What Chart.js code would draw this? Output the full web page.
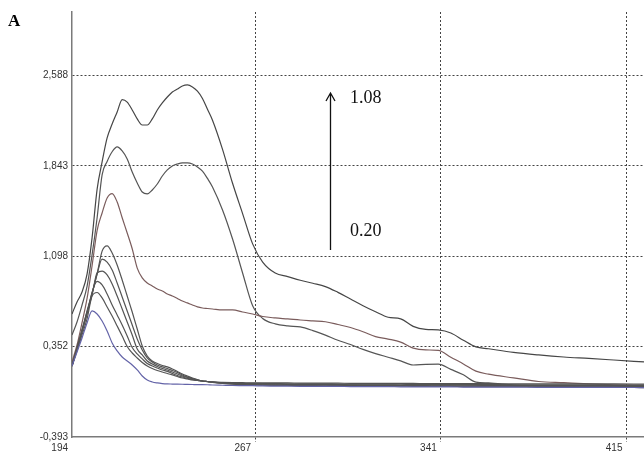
<!DOCTYPE html>
<html>
<head>
<meta charset="utf-8">
<script src="https://cdn.jsdelivr.net/npm/chart.js@4.4.1/dist/chart.umd.min.js"></script>
<style>
  html, body { margin: 0; padding: 0; background: #fff; }
</style>
</head>
<body>
<canvas id="chart" width="644" height="453"></canvas>
<script>
// Wavelength grid (nm) shared by all spectra
const wavelengths = [194,196,198,200,202,204,206,208,210,212,214,216,218,220,222,224,226,228,230,232,234,236,238,240,242,244,246,248,250,
  254,258,262,266,270,275,280,285,290,295,300,305,310,315,320,325,330,335,340,345,350,355,360,370,380,390,400,410,422];

// Concentration of each spectrum (lowest to highest)
const concentrations = ["0.20","0.31","0.42","0.53","0.64","0.75","0.86","0.97","1.08"];

// Absorbance values
const abs020 = [0.193,0.308,0.424,0.548,0.647,0.622,0.564,0.482,0.383,0.317,0.267,0.234,0.201,0.160,0.110,0.077,0.061,0.053,0.048,0.045,0.044,0.043,0.042,0.041,0.040,0.039,0.039,
  0.038,0.036,0.034,0.032,0.031,0.030,0.028,0.027,0.026,0.025,0.025,0.024,0.024,0.023,0.023,0.022,0.022,0.021,0.021,0.020,0.020,0.020,0.019,0.019,0.018,0.018,0.017,0.017,0.016,0.016,0.015];
const abs031 = [0.193,0.317,0.449,0.581,0.770,0.799,0.754,0.680,0.605,0.523,0.440,0.354,0.300,0.259,0.222,0.193,0.172,0.156,0.143,0.131,0.119,0.106,0.094,0.086,0.077,0.073,0.069,
  0.064,0.058,0.050,0.044,0.040,0.037,0.035,0.033,0.032,0.031,0.030,0.029,0.028,0.028,0.027,0.027,0.026,0.026,0.025,0.025,0.024,0.024,0.023,0.023,0.022,0.022,0.021,0.021,0.020,0.020,0.020];
const abs042 = [0.193,0.333,0.473,0.622,0.800,0.890,0.861,0.787,0.696,0.614,0.531,0.440,0.345,0.292,0.251,0.213,0.193,0.176,0.160,0.148,0.131,0.114,0.102,0.090,0.081,0.073,0.069,
  0.064,0.059,0.051,0.046,0.043,0.040,0.038,0.037,0.036,0.035,0.034,0.034,0.033,0.033,0.032,0.032,0.031,0.031,0.030,0.030,0.029,0.029,0.028,0.028,0.028,0.027,0.027,0.026,0.026,0.025,0.025];
const abs053 = [0.193,0.333,0.482,0.630,0.779,0.960,0.975,0.944,0.869,0.770,0.663,0.556,0.449,0.333,0.284,0.234,0.209,0.189,0.172,0.160,0.143,0.127,0.110,0.098,0.086,0.077,0.069,
  0.065,0.060,0.053,0.049,0.046,0.044,0.043,0.042,0.041,0.040,0.040,0.039,0.039,0.038,0.038,0.037,0.037,0.036,0.036,0.035,0.035,0.034,0.034,0.034,0.033,0.033,0.032,0.032,0.031,0.031,0.030];
const abs064 = [0.193,0.341,0.490,0.638,0.787,0.950,1.075,1.050,0.985,0.878,0.762,0.647,0.531,0.415,0.325,0.259,0.226,0.201,0.185,0.172,0.156,0.139,0.119,0.102,0.090,0.077,0.069,
  0.065,0.060,0.055,0.052,0.050,0.049,0.048,0.047,0.046,0.046,0.045,0.045,0.044,0.044,0.043,0.043,0.042,0.042,0.041,0.041,0.040,0.040,0.040,0.039,0.039,0.038,0.038,0.037,0.037,0.036,0.036];
const abs075 = [0.193,0.341,0.490,0.647,0.795,0.952,1.140,1.183,1.125,1.026,0.902,0.770,0.638,0.498,0.358,0.275,0.234,0.213,0.197,0.185,0.168,0.148,0.127,0.110,0.094,0.081,0.069,
  0.065,0.061,0.058,0.056,0.055,0.054,0.054,0.053,0.053,0.052,0.052,0.051,0.051,0.050,0.050,0.050,0.049,0.049,0.049,0.048,0.048,0.048,0.047,0.047,0.047,0.046,0.046,0.045,0.045,0.045,0.044];
const abs086 = [0.226,0.366,0.550,0.750,1.020,1.310,1.455,1.579,1.615,1.546,1.416,1.290,1.160,1.000,0.920,0.878,0.853,0.828,0.812,0.787,0.770,0.750,0.729,0.713,0.696,0.680,0.671,0.667,0.663,
  0.655,0.655,0.638,0.622,0.601,0.589,0.581,0.572,0.565,0.558,0.535,0.510,0.475,0.435,0.415,0.390,0.340,0.325,0.322,0.265,0.210,0.150,0.125,0.095,0.065,0.055,0.045,0.038,0.034];
const abs097 = [0.449,0.556,0.696,0.850,1.109,1.414,1.770,1.880,1.960,2.000,1.967,1.901,1.793,1.703,1.628,1.612,1.645,1.694,1.760,1.810,1.843,1.859,1.868,1.868,1.859,1.835,1.800,1.740,1.670,
  1.480,1.240,0.960,0.690,0.585,0.540,0.523,0.515,0.485,0.447,0.405,0.370,0.330,0.295,0.265,0.235,0.201,0.206,0.208,0.165,0.120,0.060,0.053,0.036,0.028,0.024,0.020,0.020,0.015];
const abs108 = [0.622,0.721,0.803,0.950,1.250,1.650,1.876,2.074,2.189,2.288,2.390,2.370,2.305,2.231,2.181,2.181,2.231,2.305,2.363,2.412,2.453,2.478,2.503,2.511,2.495,2.460,2.400,2.310,2.220,
  1.980,1.700,1.450,1.200,1.050,0.960,0.930,0.900,0.875,0.848,0.800,0.745,0.690,0.640,0.595,0.582,0.520,0.495,0.490,0.465,0.405,0.350,0.335,0.305,0.284,0.267,0.255,0.242,0.226];

const seriesValues = [abs020, abs031, abs042, abs053, abs064, abs075, abs086, abs097, abs108];
const seriesColors = ["#6464a8","#545454","#545454","#545454","#545454","#545454","#7a5c5c","#555555","#464646"];

// Axis ticks
const xTickValues = [194, 267, 341, 415];
const xTickLabels = ["194", "267", "341", "415"];
const yTickValues = [-0.393, 0.352, 1.098, 1.843, 2.588];
const yTickLabels = ["-0,393", "0,352", "1,098", "1,843", "2,588"];

const datasets = seriesValues.map((vals, i) => ({
  label: concentrations[i],
  data: vals.map((v, j) => ({ x: wavelengths[j], y: v })),
  borderColor: seriesColors[i],
  borderWidth: 1.2,
  pointRadius: 0,
  fill: false,
  cubicInterpolationMode: "monotone"
}));

// Arrow with the concentration range, plus the panel letter
const annotations = {
  id: "annotations",
  afterDatasetsDraw(chart) {
    const { ctx, scales: { x, y } } = chart;
    const ax = Math.round(x.getPixelForValue(296.8)) + 0.5;
    const top = y.getPixelForValue(2.445);
    const bottom = y.getPixelForValue(1.15);
    ctx.save();
    ctx.strokeStyle = "#111";
    ctx.lineWidth = 1.3;
    ctx.beginPath();
    ctx.moveTo(ax, bottom);
    ctx.lineTo(ax, top);
    ctx.moveTo(ax - 4.5, top + 8);
    ctx.lineTo(ax, top);
    ctx.lineTo(ax + 4.5, top + 8);
    ctx.stroke();

    ctx.fillStyle = "#111";
    ctx.font = "18px 'Liberation Serif', serif";
    ctx.textBaseline = "middle";
    ctx.textAlign = "left";
    const tx = x.getPixelForValue(304.8);
    ctx.fillText(concentrations[concentrations.length - 1], tx, y.getPixelForValue(2.401));
    ctx.fillText(concentrations[0], tx, y.getPixelForValue(1.301));

    ctx.font = "bold 17px 'Liberation Serif', serif";
    ctx.textBaseline = "top";
    ctx.fillStyle = "#000";
    ctx.fillText("A", 8, 13);
    ctx.restore();
  }
};

new Chart(document.getElementById("chart"), {
  type: "line",
  data: { datasets },
  options: {
    responsive: false,
    animation: false,
    layout: { padding: { top: 12, right: 0, left: 0, bottom: 0 } },
    plugins: { legend: { display: false }, tooltip: { enabled: false } },
    scales: {
      x: {
        type: "linear",
        min: 194,
        max: 422,
        afterBuildTicks: (s) => { s.ticks = xTickValues.map(v => ({ value: v })); },
        afterFit: (s) => { s.height = 16; },
        ticks: {
          callback: (v, i) => xTickLabels[i],
          color: "#333",
          font: { family: "'Liberation Sans', Arial, sans-serif", size: 10 },
          align: "end",
          labelOffset: -4,
          padding: 0,
          maxRotation: 0,
          autoSkip: false
        },
        grid: {
          color: (c) => c.tick && c.tick.value === 194 ? "rgba(0,0,0,0)" : "#444",
          tickBorderDash: [2, 2],
          tickLength: 5,
          lineWidth: 1
        },
        border: { color: "#7a7a7a", width: 1.5, dash: [2, 2] }
      },
      y: {
        type: "linear",
        min: -0.393,
        max: 3.113,
        afterBuildTicks: (s) => { s.ticks = yTickValues.map(v => ({ value: v })); },
        afterFit: (s) => { s.width = 72; },
        ticks: {
          callback: (v, i) => yTickLabels[i],
          color: "#333",
          font: { family: "'Liberation Sans', Arial, sans-serif", size: 10 },
          padding: 4,
          autoSkip: false
        },
        grid: {
          color: (c) => c.tick && c.tick.value === -0.393 ? "rgba(0,0,0,0)" : "#444",
          drawTicks: false,
          lineWidth: 1
        },
        border: { color: "#7a7a7a", width: 1.5, dash: [2, 2] }
      }
    }
  },
  plugins: [annotations]
});
</script>
</body>
</html>
